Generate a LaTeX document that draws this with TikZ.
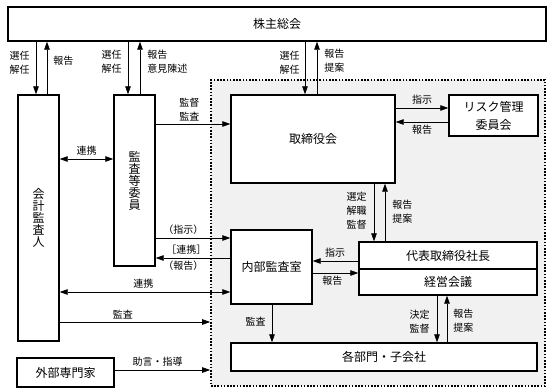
\documentclass[tikz,border=0pt]{standalone}
\usepackage{fontspec}
\setmainfont{Noto Sans CJK JP}
\usetikzlibrary{arrows.meta}
\definecolor{zone}{HTML}{F1F1F1}
\tikzset{
  box/.style={rectangle,draw=black,fill=white,line width=1.4pt,align=center,
    inner sep=2pt,font=\fontsize{12}{18}\selectfont},
  vbox/.style={box,font=\fontsize{12}{12}\selectfont},
  zonebox/.style={rectangle,draw=black,fill=zone,line width=1.6pt,
    dash pattern=on 1.6pt off 1.6pt},
  fl/.style={-{Triangle[length=8pt,width=5.5pt]},draw=black,line width=0.8pt},
  fl2/.style={{Triangle[length=8pt,width=5.5pt]}-{Triangle[length=8pt,width=5.5pt]},
    draw=black,line width=0.8pt},
  lb/.style={font=\fontsize{10}{14}\selectfont,inner sep=1pt,align=center},
}

\begin{document}
\begin{tikzpicture}[x=1pt,y=-1pt]
  \useasboundingbox (0,0) rectangle (548,388);
  \node[zonebox,minimum width=334pt,minimum height=306pt] (grp) at (378,233) {};
  \node[box,minimum width=538pt,minimum height=34pt] (sh) at (277,24) {株主総会};
  \node[vbox,minimum width=41pt,minimum height=246pt] (kk) at (38.5,218) {会\\計\\監\\査\\人};
  \node[vbox,minimum width=41pt,minimum height=171pt] (ki) at (134.5,180.5) {監\\査\\等\\委\\員};
  \node[box,minimum width=164pt,minimum height=88pt] (tr) at (313,139) {取締役会};
  \node[box,minimum width=89pt,minimum height=41pt] (rk) at (493.5,115.5) {リスク管理\\委員会};
  \node[box,minimum width=178pt,minimum height=27pt] (dh) at (448,255.5) {代表取締役社長};
  \node[box,minimum width=178pt,minimum height=26pt] (kg) at (448,282) {経営会議};
  \node[box,minimum width=81pt,minimum height=74pt] (nb) at (271.5,267) {内部監査室};
  \node[box,minimum width=306pt,minimum height=28pt] (kb) at (384,357) {各部門・子会社};
  \node[box,minimum width=97pt,minimum height=29pt] (gb) at (65.5,372.5) {外部専門家};

  \draw[fl] (sh.south -| 36,0) -- node[lb,pos=.39,left=5pt]{選任\\解任} (kk.north -| 36,0);
  \draw[fl] (kk.north -| 47,0) -- node[lb,pos=.63,right=5pt]{報告} (sh.south -| 47,0);
  \draw[fl] (sh.south -| 128,0) -- node[lb,pos=.38,left=5pt]{選任\\解任} (ki.north -| 128,0);
  \draw[fl] (ki.north -| 140,0) -- node[lb,pos=.62,right=6pt,align=left]{報告\\意見陳述} (sh.south -| 140,0);
  \draw[fl] (sh.south -| 305,0) -- node[lb,pos=.39,left=4pt]{選任\\解任} (tr.north -| 305,0);
  \draw[fl] (tr.north -| 317,0) -- node[lb,pos=.63,right=6pt]{報告\\提案} (sh.south -| 317,0);

  \draw[fl] (ki.east |- 0,124) -- node[lb,pos=.45,above=2pt]{監督\\監査} (tr.west |- 0,124);
  \draw[fl] (tr.east |- 0,108) -- node[lb,above=2pt]{指示} (rk.west |- 0,108);
  \draw[fl] (rk.west |- 0,122) -- node[lb,below=2pt]{報告} (tr.east |- 0,122);
  \draw[fl2] (kk.east |- 0,159) -- node[lb,above=2pt]{連携} (ki.west |- 0,159);

  \draw[fl] (tr.south -| 374,0) -- node[lb,pos=.47,left=6pt]{選定\\解職\\監督} (dh.north -| 374,0);
  \draw[fl] (dh.north -| 385,0) -- node[lb,pos=.51,right=6pt]{報告\\提案} (tr.south -| 385,0);

  \draw[fl] (ki.east |- 0,238) -- node[lb,pos=.37,above=2pt]{（指示）} (nb.west |- 0,238);
  \draw[fl] (nb.west |- 0,258) -- node[lb,pos=.59,above=2pt]{［連携］}
    node[lb,pos=.63,below=2pt]{（報告）} (ki.east |- 0,258);
  \draw[fl] (dh.west |- 0,261) -- node[lb,pos=.51,above=2pt]{指示} (nb.east |- 0,261);
  \draw[fl] (nb.east |- 0,273) -- node[lb,pos=.43,below=2pt]{報告} (kg.west |- 0,273);

  \draw[fl2] (kk.east |- 0,292) -- node[lb,pos=.49,above=2pt]{連携} (nb.west |- 0,292);
  \draw[fl] (kk.east |- 0,322) -- node[lb,pos=.42,above=2pt]{監査} (grp.west |- 0,322);
  \draw[fl] (gb.east |- 0,370) -- node[lb,pos=.45,above=2pt]{助言・指導} (grp.west |- 0,370);

  \draw[fl] (nb.south -| 272,0) -- node[lb,pos=.46,left=5pt]{監査} (kb.north -| 272,0);
  \draw[fl] (kg.south -| 437,0) -- node[lb,pos=.55,left=6pt]{決定\\監督} (kb.north -| 437,0);
  \draw[fl] (kb.north -| 447,0) -- node[lb,pos=.46,right=5pt]{報告\\提案} (kg.south -| 447,0);
\end{tikzpicture}
\end{document}
